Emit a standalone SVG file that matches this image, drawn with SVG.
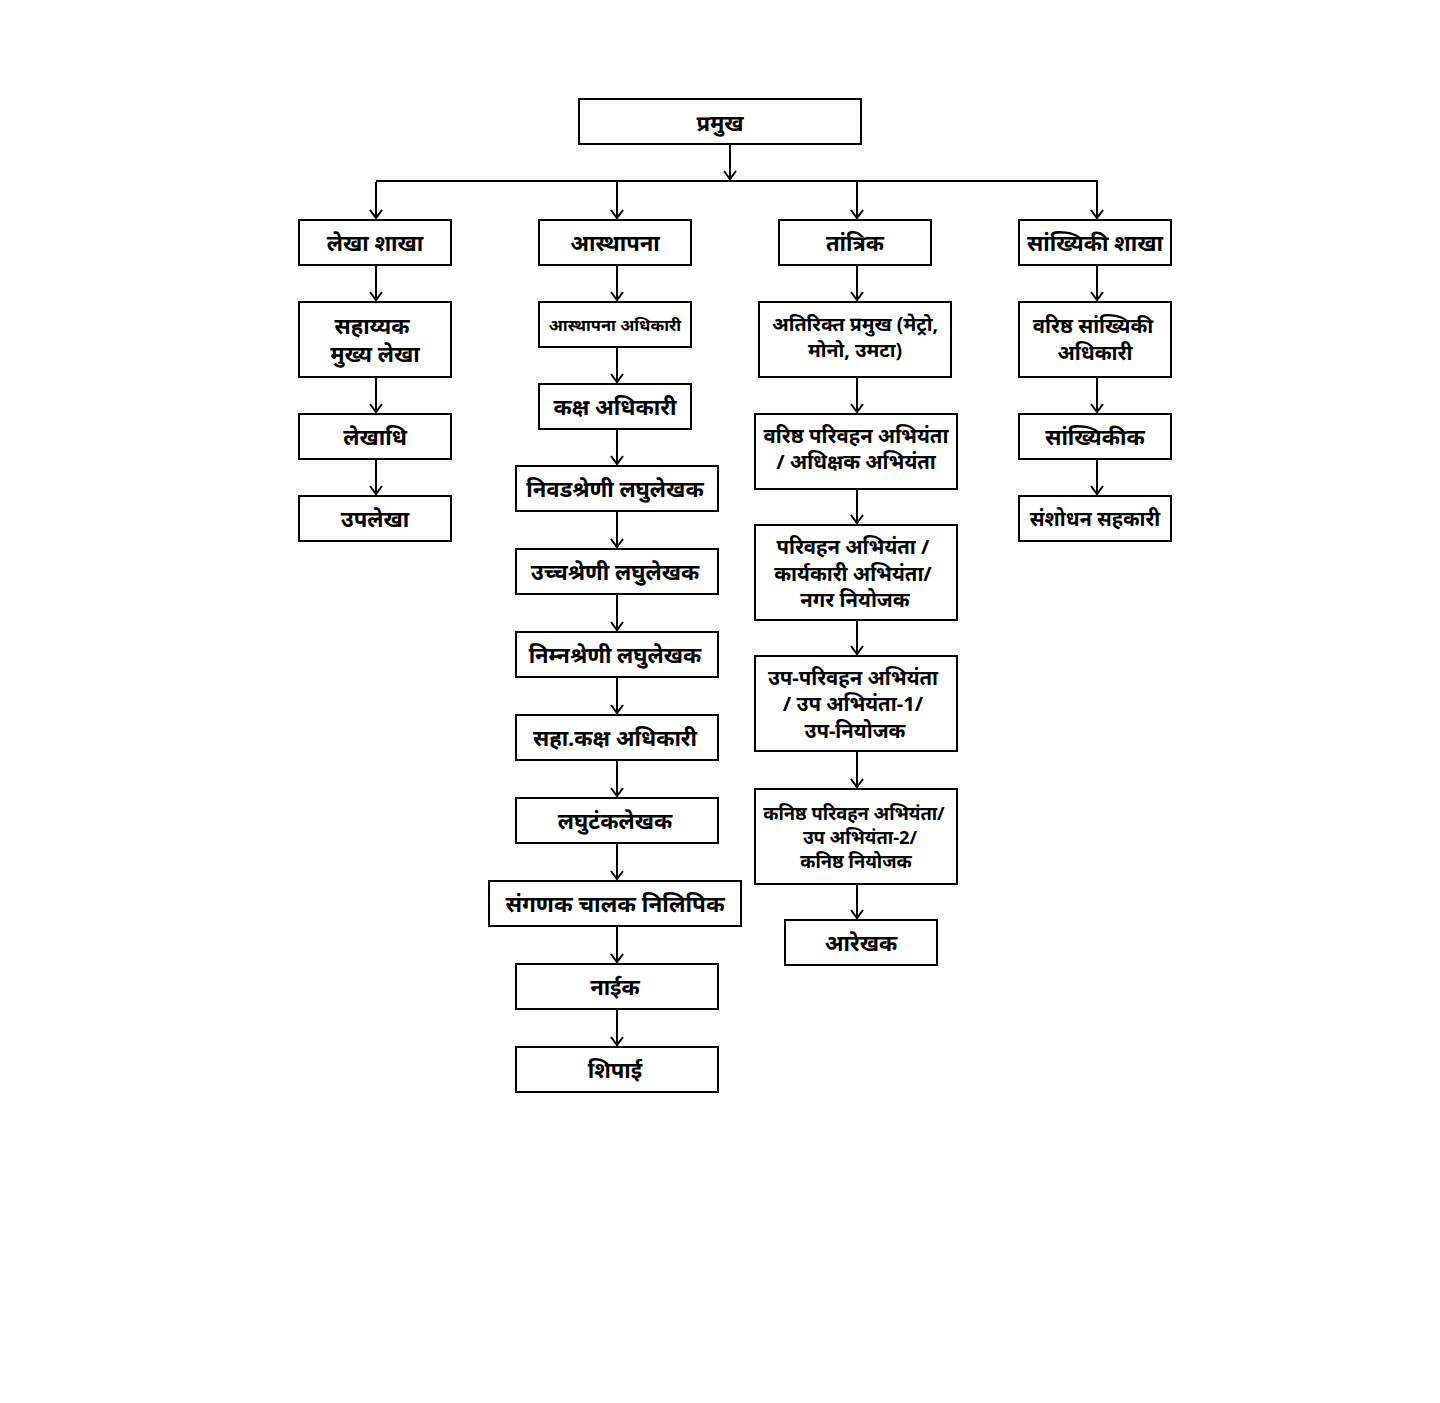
<svg xmlns="http://www.w3.org/2000/svg" width="1440" height="1403" viewBox="0 0 1440 1403">
<style>
.b{fill:#fff;stroke:#000;stroke-width:2}
.t{font-family:"Noto Sans","Noto Sans Devanagari","Lato",sans-serif;font-weight:bold;font-size:22px;fill:#000;text-anchor:middle;dominant-baseline:central}
.s{font-size:18.3px}
.m{font-size:20.3px}
.c{stroke:#000;stroke-width:2;fill:none}
</style>
<defs>
<marker id="a" markerUnits="userSpaceOnUse" markerWidth="12" markerHeight="16" viewBox="0 0 12 16" refX="10" refY="8" orient="auto">
<path d="M2,2 L10,8 L2,14" fill="none" stroke="#000" stroke-width="2"/>
</marker>
</defs>
<rect width="1440" height="1403" fill="#fff"/>
<g id="connectors">
<path class="c" d="M730,145 V179" marker-end="url(#a)"/>
<path class="c" d="M376,181 H1098"/>
<path class="c" d="M376,182 V218" marker-end="url(#a)"/>
<path class="c" d="M617,182 V218" marker-end="url(#a)"/>
<path class="c" d="M857,182 V218" marker-end="url(#a)"/>
<path class="c" d="M1097,182 V218" marker-end="url(#a)"/>
<path class="c" d="M376,266 V300" marker-end="url(#a)"/>
<path class="c" d="M376,378 V412" marker-end="url(#a)"/>
<path class="c" d="M376,460 V494" marker-end="url(#a)"/>
<path class="c" d="M617,266 V300" marker-end="url(#a)"/>
<path class="c" d="M617,348 V382" marker-end="url(#a)"/>
<path class="c" d="M617,430 V464" marker-end="url(#a)"/>
<path class="c" d="M617,512 V547" marker-end="url(#a)"/>
<path class="c" d="M617,595 V630" marker-end="url(#a)"/>
<path class="c" d="M617,678 V713" marker-end="url(#a)"/>
<path class="c" d="M617,761 V796" marker-end="url(#a)"/>
<path class="c" d="M617,844 V879" marker-end="url(#a)"/>
<path class="c" d="M617,927 V962" marker-end="url(#a)"/>
<path class="c" d="M617,1010 V1045" marker-end="url(#a)"/>
<path class="c" d="M857,266 V300" marker-end="url(#a)"/>
<path class="c" d="M857,378 V412" marker-end="url(#a)"/>
<path class="c" d="M857,490 V523" marker-end="url(#a)"/>
<path class="c" d="M857,621 V654" marker-end="url(#a)"/>
<path class="c" d="M857,752 V787" marker-end="url(#a)"/>
<path class="c" d="M857,885 V918" marker-end="url(#a)"/>
<path class="c" d="M1097,266 V300" marker-end="url(#a)"/>
<path class="c" d="M1097,378 V412" marker-end="url(#a)"/>
<path class="c" d="M1097,460 V494" marker-end="url(#a)"/>
</g>
<g id="n-pramukh"><rect class="b" x="579" y="99" width="282" height="45"/><text class="t" x="720" y="122">प्रमुख</text></g>

<g id="n-lekha"><rect class="b" x="299" y="220" width="152" height="45"/><text class="t" x="375" y="242">लेखा शाखा</text></g>
<g id="n-sahayyak"><rect class="b" x="299" y="302" width="152" height="75"/><text class="t" x="372" y="325">सहाय्यक</text><text class="t" x="375" y="353">मुख्य लेखा</text></g>
<g id="n-lekhadhi"><rect class="b" x="299" y="414" width="152" height="45"/><text class="t" x="375" y="436">लेखाधि</text></g>
<g id="n-uplekha"><rect class="b" x="299" y="496" width="152" height="45"/><text class="t" x="375" y="518">उपलेखा</text></g>

<g id="n-asthapana"><rect class="b" x="539" y="220" width="152" height="45"/><text class="t" x="615" y="242">आस्थापना</text></g>
<g id="n-asth-adhikari"><rect class="b" x="539" y="302" width="152" height="45"/><text class="t" x="615" y="324" style="font-size:16.5px">आस्थापना अधिकारी</text></g>
<g id="n-kaksh"><rect class="b" x="539" y="384" width="152" height="45"/><text class="t" x="615" y="406">कक्ष अधिकारी</text></g>
<g id="n-nivad"><rect class="b" x="516" y="466" width="202" height="45"/><text class="t" x="615" y="488">निवडश्रेणी लघुलेखक</text></g>
<g id="n-uchch"><rect class="b" x="516" y="549" width="202" height="45"/><text class="t" x="615" y="571">उच्चश्रेणी लघुलेखक</text></g>
<g id="n-nimn"><rect class="b" x="516" y="632" width="202" height="45"/><text class="t" x="615" y="654">निम्नश्रेणी लघुलेखक</text></g>
<g id="n-saha-kaksh"><rect class="b" x="516" y="715" width="202" height="45"/><text class="t" x="615" y="737">सहा.कक्ष अधिकारी</text></g>
<g id="n-laghutank"><rect class="b" x="516" y="798" width="202" height="45"/><text class="t" x="615" y="820">लघुटंकलेखक</text></g>
<g id="n-sanganak"><rect class="b" x="489" y="881" width="252" height="45"/><text class="t" x="615" y="903" style="font-size:22.5px">संगणक चालक निलिपिक</text></g>
<g id="n-naik"><rect class="b" x="516" y="964" width="202" height="45"/><text class="t" x="615" y="986">नाईक</text></g>
<g id="n-shipai"><rect class="b" x="516" y="1047" width="202" height="45"/><text class="t" x="615" y="1069">शिपाई</text></g>

<g id="n-tantrik"><rect class="b" x="779" y="220" width="152" height="45"/><text class="t" x="855" y="242">तांत्रिक</text></g>
<g id="n-atirikt"><rect class="b" x="759" y="302" width="192" height="75"/><text class="t" x="855" y="323" style="font-size:19.6px">अतिरिक्त प्रमुख (मेट्रो,</text><text class="t" x="855" y="349" style="font-size:19.6px">मोनो, उमटा)</text></g>
<g id="n-varishth-pa"><rect class="b" x="755" y="414" width="202" height="75"/><text class="t m" x="856" y="435">वरिष्ठ परिवहन अभियंता</text><text class="t m" x="856" y="461">/ अधिक्षक अभियंता</text></g>
<g id="n-parivahan"><rect class="b" x="755" y="525" width="202" height="95"/><text class="t m" x="853" y="546">परिवहन अभियंता /</text><text class="t m" x="853" y="573">कार्यकारी अभियंता/</text><text class="t m" x="855" y="599">नगर नियोजक</text></g>
<g id="n-up-parivahan"><rect class="b" x="755" y="656" width="202" height="95"/><text class="t m" x="853" y="677">उप-परिवहन अभियंता</text><text class="t m" x="853" y="703">/ उप अभियंता-1/</text><text class="t m" x="855" y="730">उप-नियोजक</text></g>
<g id="n-kanishth"><rect class="b" x="755" y="789" width="202" height="95"/><text class="t s" x="854" y="812">कनिष्ठ परिवहन अभियंता/</text><text class="t s" x="860" y="836">उप अभियंता-2/</text><text class="t s" x="856" y="860">कनिष्ठ नियोजक</text></g>
<g id="n-arekhak"><rect class="b" x="785" y="920" width="152" height="45"/><text class="t" x="861" y="942">आरेखक</text></g>

<g id="n-sankhyiki"><rect class="b" x="1019" y="220" width="152" height="45"/><text class="t" x="1095" y="242">सांख्यिकी शाखा</text></g>
<g id="n-varishth-s"><rect class="b" x="1019" y="302" width="152" height="75"/><text class="t m" x="1093" y="325">वरिष्ठ सांख्यिकी</text><text class="t m" x="1095" y="352">अधिकारी</text></g>
<g id="n-sankhyikik"><rect class="b" x="1019" y="414" width="152" height="45"/><text class="t" x="1095" y="436">सांख्यिकीक</text></g>
<g id="n-sanshodhan"><rect class="b" x="1019" y="496" width="152" height="45"/><text class="t" x="1095" y="518" style="font-size:20px">संशोधन सहकारी</text></g>
</svg>
